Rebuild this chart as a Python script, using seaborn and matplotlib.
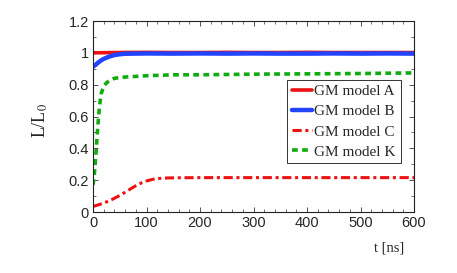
import matplotlib
matplotlib.use("Agg")
import matplotlib.pyplot as plt
import seaborn as sns
import pandas as pd
from matplotlib.ticker import MultipleLocator

sns.set_style("ticks")
plt.rcParams['font.family'] = ['Liberation Sans', 'DejaVu Sans']
plt.rcParams['mathtext.fontset'] = 'stix'

# --- data ---
t_A = [0, 50, 100, 150, 200, 250, 300, 350, 400, 450, 500, 550, 600]
val_A = [1.0, 1.002, 1.003, 1.002, 1.002, 1.003, 1.002, 1.002, 1.003, 1.002, 1.002, 1.002, 1.002]

t_B = [0, 5, 10, 15, 20, 30, 40, 50, 60, 80, 100, 150, 200, 250, 300, 350, 400, 450, 500, 550, 600]
val_B = [0.913, 0.925, 0.940, 0.952, 0.962, 0.976, 0.986, 0.991, 0.994, 0.995, 0.996, 0.995,
         0.996, 0.995, 0.996, 0.995, 0.995, 0.996, 0.995, 0.996, 0.995]

t_C = [0, 10, 20, 30, 40, 50, 60, 70, 80, 90, 100, 110, 120, 140, 160, 200, 300, 400, 500, 600]
val_C = [0.035, 0.045, 0.056, 0.070, 0.086, 0.104, 0.124, 0.145, 0.165, 0.182, 0.195, 0.204,
         0.210, 0.214, 0.215, 0.216, 0.216, 0.216, 0.216, 0.216]

t_K = [0, 2, 4, 6, 8, 10, 12, 15, 20, 25, 30, 40, 60, 80, 100, 150, 200, 300, 400, 500, 600]
val_K = [0.17, 0.22, 0.30, 0.39, 0.49, 0.58, 0.66, 0.74, 0.79, 0.81, 0.825, 0.84, 0.848,
         0.852, 0.856, 0.862, 0.862, 0.866, 0.868, 0.870, 0.874]

labels = ["GM model A", "GM model B", "GM model C", "GM model K"]
x_ticks = [0, 100, 200, 300, 400, 500, 600]
y_ticks = [0, 0.2, 0.4, 0.6, 0.8, 1.0, 1.2]
y_tick_labels = ["0", "0.2", "0.4", "0.6", "0.8", "1", "1.2"]

series = [(t_A, val_A), (t_B, val_B), (t_C, val_C), (t_K, val_K)]
frames = []
for lab, (tt, vv) in zip(labels, series):
    frames.append(pd.DataFrame({"t": tt, "v": vv, "model": lab}))
df = pd.concat(frames, ignore_index=True)

colors = {"GM model A": "#ee1111", "GM model B": "#2244ff",
          "GM model C": "#ee1111", "GM model K": "#11aa11"}
styles = {"GM model A": (None, 2.6), "GM model B": (None, 3.2),
          "GM model C": ((0, (3, 1.2, 1, 1.2)), 2.2), "GM model K": ((0, (1.6, 1.2)), 2.6)}

fig = plt.figure(figsize=(4.57, 2.73), dpi=100)
ax = fig.add_axes([93/457, 1-212/273, (414-93)/457, (212-21)/273])

for lab in labels:
    sub = df[df.model == lab]
    ls, lw = styles[lab]
    sns.lineplot(data=sub, x="t", y="v", ax=ax, color=colors[lab], lw=lw,
                 label=lab, linestyle='-' if ls is None else ls)

ax.set_xlim(0, 600)
ax.set_ylim(0, 1.2)
ax.set_xticks(x_ticks)
ax.set_xticklabels([str(x) for x in x_ticks])
ax.set_yticks(y_ticks)
ax.set_yticklabels(y_tick_labels)
ax.xaxis.set_minor_locator(MultipleLocator(20))
ax.yaxis.set_minor_locator(MultipleLocator(0.1))
ax.tick_params(which='both', direction='in', top=True, right=True, labelsize=10.5,
               color='#333333', pad=3)
ax.tick_params(which='major', length=3.5, width=0.6)
ax.tick_params(which='minor', length=2, width=0.5)
for s in ax.spines.values():
    s.set_linewidth(0.8)
    s.set_color('#222222')

ax.set_xlabel("t [ns]", fontsize=10.5, family='Liberation Serif', loc='right')
ax.xaxis.set_label_coords((404-93)/321, -0.155)
ax.set_ylabel(r"L/L$_0$", fontsize=13, family='Liberation Serif')
ax.yaxis.set_label_coords(-0.135, 0.48)

leg = ax.legend(loc='upper right', bbox_to_anchor=(0.958, 0.691), frameon=True,
                fancybox=False, edgecolor='#333333', framealpha=1,
                prop={'family': 'Liberation Serif', 'size': 11},
                handlelength=1.35, handletextpad=0.15, borderpad=0.3,
                labelspacing=0.42, borderaxespad=0)
leg.get_frame().set_linewidth(0.7)

fig.savefig("out.png", dpi=100)
